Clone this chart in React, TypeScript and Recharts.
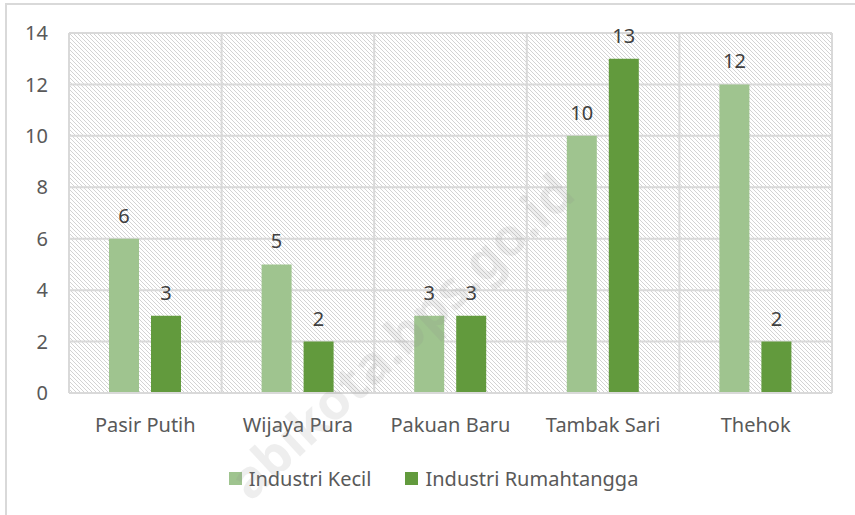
import React from "react";
import { BarChart, Bar, XAxis, YAxis, CartesianGrid, LabelList, Legend } from "recharts";

const categories = ["Pasir Putih", "Wijaya Pura", "Pakuan Baru", "Tambak Sari", "Thehok"];
const industriKecil = [6, 5, 3, 10, 12];
const industriRumahtangga = [3, 2, 3, 13, 2];
const yTicks = [0, 2, 4, 6, 8, 10, 12, 14];

const data = categories.map((name, i) => ({
  name,
  kecil: industriKecil[i],
  rumah: industriRumahtangga[i],
}));

const LIGHT = "#9fc48f";
const DARK = "#629a3d";
const FONT = "'Noto Sans', sans-serif";

const LegendContent = () => (
  <div
    style={{
      height: 40,
      display: "flex",
      alignItems: "center",
      justifyContent: "center",
      fontFamily: FONT,
      fontSize: 20,
      color: "#595959",
      paddingLeft: 26,
    }}
  >
    <div style={{ display: "flex", alignItems: "center", marginRight: 34 }}>
      <span style={{ width: 13, height: 13, background: LIGHT, display: "inline-block", marginRight: 7 }} />
      <span>Industri Kecil</span>
    </div>
    <div style={{ display: "flex", alignItems: "center" }}>
      <span style={{ width: 13, height: 13, background: DARK, display: "inline-block", marginRight: 7 }} />
      <span>Industri Rumahtangga</span>
    </div>
  </div>
);

export default function App() {
  return (
    <div style={{ position: "absolute", left: 0, top: 0, width: 855, height: 515, background: "#fff", overflow: "hidden" }}>
      <svg width={0} height={0} style={{ position: "absolute" }}>
        <defs>
          <pattern id="hatch" patternUnits="userSpaceOnUse" width={4} height={4}>
            <rect width={4} height={4} fill="#ffffff" />
            <path d="M-1,-1 L5,5 M-1,3 L1,5 M3,-1 L5,1" stroke="#d3d3d3" strokeWidth={1} />
          </pattern>
        </defs>
      </svg>
      <div
        style={{
          position: "absolute",
          left: 5,
          top: 3,
          width: 850,
          height: 512,
          borderTop: "2px solid #d9d9d9",
          borderLeft: "2px solid #d9d9d9",
          boxSizing: "border-box",
        }}
      />
      <div style={{ position: "absolute", left: 0, top: 0 }}>
        <BarChart
          width={855}
          height={515}
          data={data}
          margin={{ top: 33, right: 23, left: 9, bottom: 17 }}
          barSize={30}
          barGap={12}
        >
          <CartesianGrid
            fill="url(#hatch)"
            fillOpacity={1}
            stroke="#d9d9d9"
            strokeWidth={2}
            vertical={true}
            horizontal={true}
            verticalCoordinatesGenerator={({ offset }: any) => {
              const w = offset.width / categories.length;
              return [0, 1, 2, 3, 4, 5].map((i) => offset.left + i * w);
            }}
          />
          <XAxis
            dataKey="name"
            height={65}
            tickLine={false}
            axisLine={{ stroke: "#d9d9d9", strokeWidth: 2 }}
            tickSize={0}
            tickMargin={25}
            tick={{ fill: "#595959", fontSize: 20, fontFamily: FONT }}
            interval={0}
          />
          <YAxis
            width={60}
            domain={[0, 14]}
            ticks={yTicks}
            axisLine={false}
            tickLine={false}
            tickSize={0}
            tickMargin={21}
            tick={{ fill: "#595959", fontSize: 20, fontFamily: FONT }}
          />
          <Legend verticalAlign="bottom" content={<LegendContent />} />
          <Bar dataKey="kecil" name="Industri Kecil" fill={LIGHT} isAnimationActive={false}>
            <LabelList dataKey="kecil" position="top" offset={16} fill="#404040" fontSize={20} fontFamily={FONT} />
          </Bar>
          <Bar dataKey="rumah" name="Industri Rumahtangga" fill={DARK} isAnimationActive={false}>
            <LabelList dataKey="rumah" position="top" offset={16} fill="#404040" fontSize={20} fontFamily={FONT} />
          </Bar>
        </BarChart>
      </div>
      <div
        style={{
          position: "absolute",
          left: 400,
          top: 335,
          transform: "translate(-50%, -50%) rotate(-43deg)",
          fontFamily: FONT,
          fontWeight: 700,
          fontSize: 52,
          color: "rgba(140,140,140,0.15)",
          whiteSpace: "nowrap",
          pointerEvents: "none",
        }}
      >
        abikota.bps.go.id
      </div>
    </div>
  );
}
